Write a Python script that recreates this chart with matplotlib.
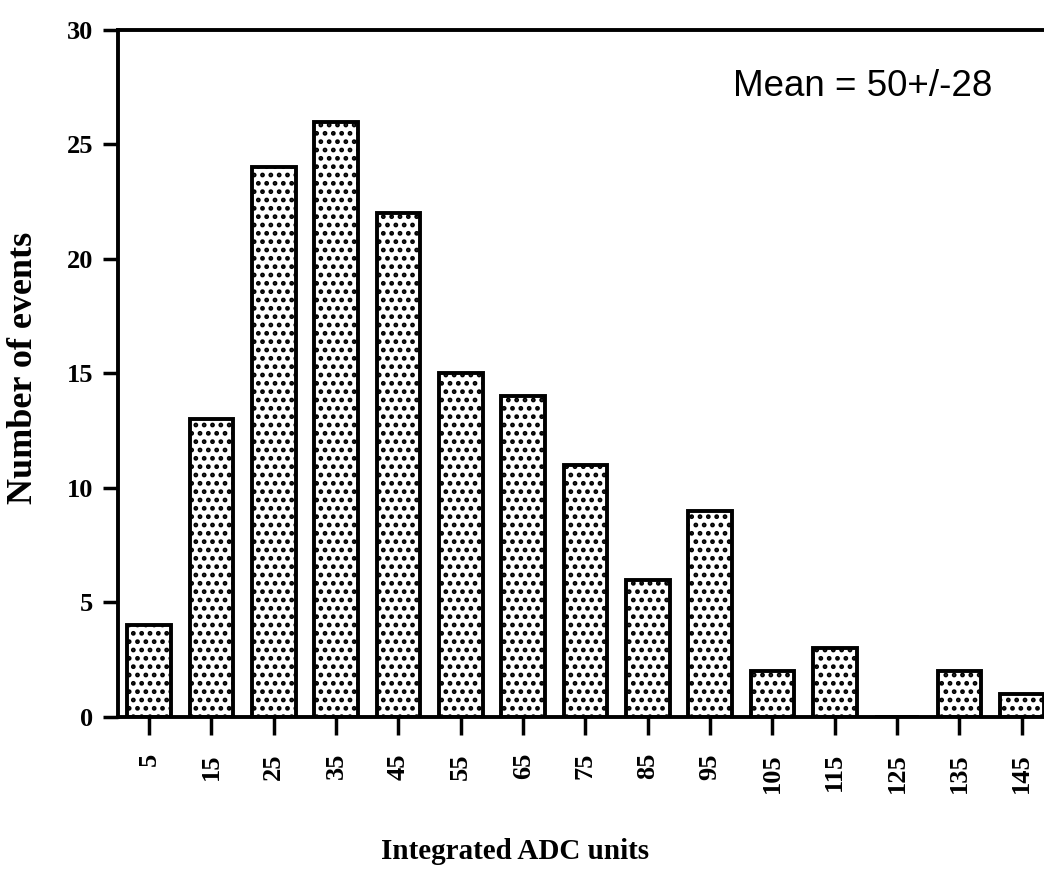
import numpy as np
import matplotlib
matplotlib.use("Agg")
import matplotlib.pyplot as plt

# histogramme des charges integrees
centres = [5, 15, 25, 35, 45, 55, 65, 75, 85, 95, 105, 115, 125, 135, 145]
evenements = [4, 13, 24, 26, 22, 15, 14, 11, 6, 9, 2, 3, 0, 2, 1]
etiquettes = [str(c) for c in centres]
texte_moyenne = "Mean = 50+/-28"

plt.rcParams['hatch.linewidth'] = 2.2
plt.rcParams['hatch.color'] = 'black'

fig = plt.figure(figsize=(10.44, 8.71), dpi=100)
ax = fig.add_axes([0.113, 0.1768, 0.8956, 0.7888])

x = np.arange(len(centres))
ax.bar(x, evenements, width=0.7, facecolor='white', edgecolor='black',
       linewidth=2.8, hatch='..')

ax.set_xlim(-0.5, 14.5)
ax.set_ylim(0, 30)
ax.set_yticks([0, 5, 10, 15, 20, 25, 30])
ax.set_xticks(x)
ax.set_xticklabels(etiquettes, rotation=90, fontfamily='Liberation Serif',
                   fontweight='bold', fontsize=19)
for lab in ax.get_yticklabels():
    lab.set_fontfamily('Liberation Serif')
    lab.set_fontweight('bold')
    lab.set_fontsize(19)

for s in ['left', 'bottom', 'top']:
    ax.spines[s].set_linewidth(2.8)
ax.spines['right'].set_visible(False)

ax.tick_params(axis='y', direction='out', length=11, width=2.5, pad=7)
ax.tick_params(axis='x', direction='out', length=13, width=2.5, pad=13)

ax.set_xlabel('Integrated ADC units', fontfamily='Liberation Serif',
              fontweight='bold', fontsize=21)
ax.set_ylabel('Number of events', fontfamily='Liberation Serif',
              fontweight='bold', fontsize=26)
ax.xaxis.set_label_coords(0.4246, -0.176)
ax.yaxis.set_label_coords(-0.083, 0.508)

ax.text(9.37, 27.1, texte_moyenne, va='baseline', ha='left',
        family=['Liberation Sans', 'DejaVu Sans'], fontsize=26.5)

fig.savefig('out.png', dpi=100)
